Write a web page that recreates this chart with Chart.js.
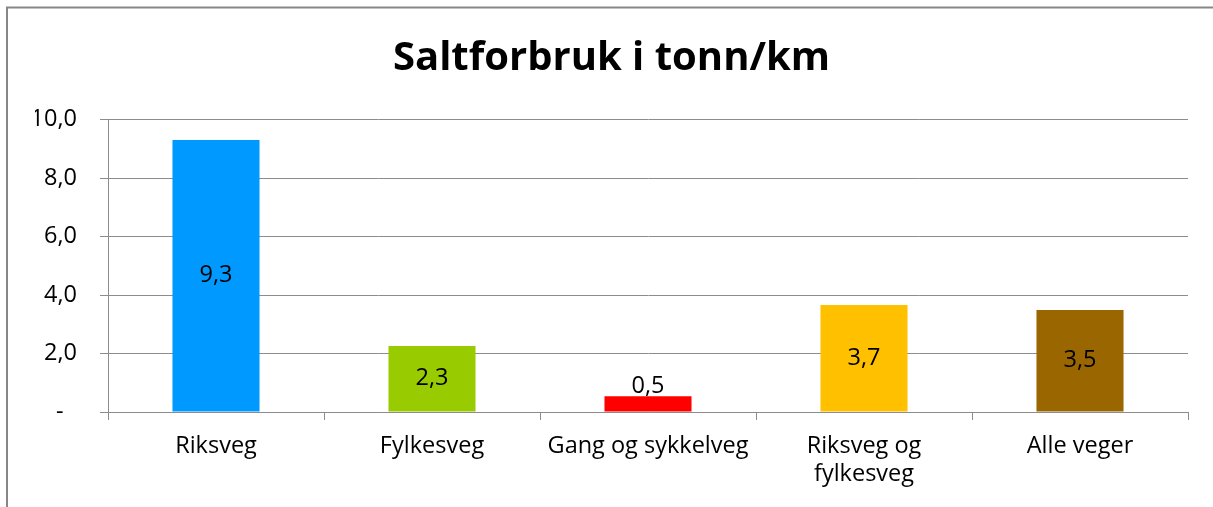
<!DOCTYPE html>
<html>
<head>
<meta charset="utf-8">
<script src="https://cdn.jsdelivr.net/npm/chart.js@4/dist/chart.umd.min.js"></script>
<style>
  html, body { margin: 0; padding: 0; background: #fff; }
  #wrap { width: 1213px; height: 507px; position: relative; }
</style>
</head>
<body>
<div id="wrap"><canvas id="c" width="1213" height="507"></canvas></div>
<script>
const chartTitle = 'Saltforbruk i tonn/km';
const categories = ['Riksveg', 'Fylkesveg', 'Gang og sykkelveg', ['Riksveg og', 'fylkesveg'], 'Alle veger'];
const values = [9.30, 2.26, 0.54, 3.66, 3.49];
const barColors = ['#0099FF', '#99CC00', '#FF0000', '#FFC000', '#996600'];
const yTicks = [0, 2, 4, 6, 8, 10];

const FONT = '"Open Sans", Lato, sans-serif';
const GRID = '#8C8C8C';
const TICK_SIZE = 23.5;

function fmt(v) {
  if (v === 0) return '-\u2007';
  return v.toFixed(1).replace('.', ',');
}

const frame = {
  id: 'frame',
  beforeDraw(chart) {
    const ctx = chart.ctx;
    ctx.save();
    ctx.strokeStyle = '#878787';
    ctx.lineWidth = 2;
    ctx.beginPath();
    ctx.moveTo(7, 507);
    ctx.lineTo(7, 7.5);
    ctx.lineTo(1213, 7.5);
    ctx.stroke();
    ctx.restore();
  }
};

const valueLabels = {
  id: 'valueLabels',
  afterDatasetsDraw(chart) {
    const ctx = chart.ctx;
    const meta = chart.getDatasetMeta(0);
    ctx.save();
    ctx.font = TICK_SIZE + 'px ' + FONT;
    ctx.fillStyle = '#000';
    ctx.textAlign = 'center';
    meta.data.forEach((bar, i) => {
      const v = chart.data.datasets[0].data[i];
      const txt = v.toFixed(1).replace('.', ',');
      const h = bar.base - bar.y;
      if (h > 30) {
        ctx.textBaseline = 'middle';
        ctx.fillText(txt, bar.x, (bar.y + bar.base) / 2);
      } else {
        ctx.textBaseline = 'alphabetic';
        ctx.fillText(txt, bar.x, bar.y - 3);
      }
    });
    ctx.restore();
  }
};

new Chart(document.getElementById('c'), {
  type: 'bar',
  data: {
    labels: categories,
    datasets: [{
      data: values,
      backgroundColor: barColors,
      borderWidth: 0,
      categoryPercentage: 1,
      barPercentage: 0.403
    }]
  },
  plugins: [frame, valueLabels],
  options: {
    responsive: false,
    animation: false,
    devicePixelRatio: 1,
    layout: { padding: { left: 35, right: 25, top: 0, bottom: 0 } },
    plugins: {
      legend: { display: false },
      tooltip: { enabled: false },
      title: {
        display: true,
        text: chartTitle,
        color: '#000',
        font: { family: FONT, size: 40, weight: 'bold', lineHeight: 1.2 },
        padding: { top: 35, bottom: 36.5 }
      }
    },
    scales: {
      x: {
        grid: {
          display: true,
          drawOnChartArea: false,
          drawTicks: true,
          tickLength: 8,
          color: GRID,
          offset: true
        },
        border: { display: true, color: GRID, width: 1 },
        ticks: {
          color: '#000',
          font: { family: FONT, size: TICK_SIZE, lineHeight: 1.17 },
          padding: 13,
          maxRotation: 0,
          autoSkip: false
        },
        afterFit(scale) { scale.height = 95; }
      },
      y: {
        min: 0,
        max: 10,
        afterBuildTicks(scale) { scale.ticks = yTicks.map(v => ({ value: v })); },
        grid: {
          color: GRID,
          drawTicks: true,
          tickLength: 8
        },
        border: { display: true, color: GRID, width: 1 },
        ticks: {
          color: '#000',
          font: { family: FONT, size: TICK_SIZE },
          padding: 23,
          callback: (v) => fmt(v)
        },
        afterFit(scale) { scale.width = 73; }
      }
    }
  }
});
</script>
</body>
</html>
